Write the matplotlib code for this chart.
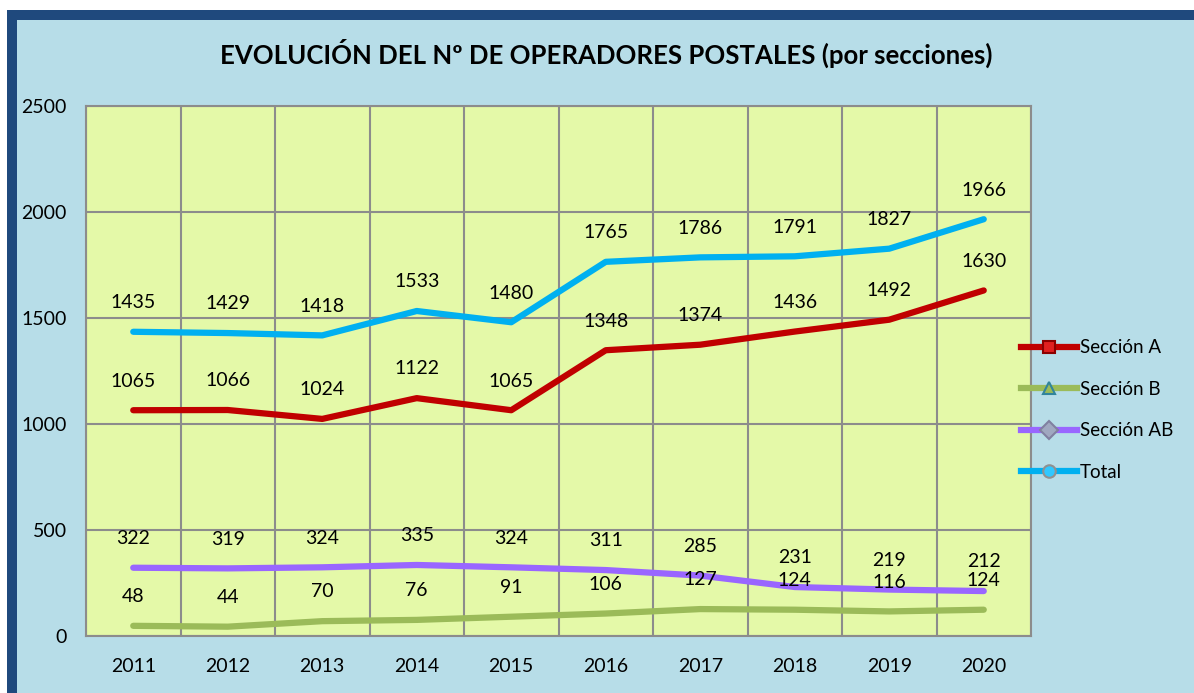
import numpy as np
import matplotlib.pyplot as plt
from matplotlib.patches import Rectangle
from matplotlib.lines import Line2D

plt.rcParams['font.family'] = ['Lato', 'DejaVu Sans']

# data
years = ['2011', '2012', '2013', '2014', '2015', '2016', '2017', '2018', '2019', '2020']
secc_a = [1065, 1066, 1024, 1122, 1065, 1348, 1374, 1436, 1492, 1630]
secc_b = [48, 44, 70, 76, 91, 106, 127, 124, 116, 124]
secc_ab = [322, 319, 324, 335, 324, 311, 285, 231, 219, 212]
total = [1435, 1429, 1418, 1533, 1480, 1765, 1786, 1791, 1827, 1966]

series = [
    ('Sección A', secc_a, '#C00000', 's', '#E02020', '#8B0000'),
    ('Sección B', secc_b, '#9BBB59', '^', '#9BBB59', '#31849B'),
    ('Sección AB', secc_ab, '#9966FF', 'D', '#A0A8C0', '#8080A0'),
    ('Total', total, '#00B0F0', 'o', '#30C8FF', '#909090'),
]

W, H = 1194, 693
fig = plt.figure(figsize=(W / 100, H / 100), dpi=100, facecolor='white')

# outer frame
frame = Rectangle((12 / W, -5 / H), 1200 / W, (H - 15 + 5) / H,
                  transform=fig.transFigure, facecolor='#B7DDE8',
                  edgecolor='#1F497D', linewidth=7.2, zorder=-10)
fig.add_artist(frame)

ax = fig.add_axes([86 / W, 1 - 636 / H, (1031 - 86) / W, (636 - 106) / H])
ax.set_facecolor('#E4F9A8')

x = np.arange(len(years))
handles = []
for name, vals, col, mk, mfc, mec in series:
    ax.plot(x, vals, color=col, lw=4.5, solid_capstyle='round', zorder=3)
    for xi, v in zip(x, vals):
        ax.annotate(str(v), (xi, v), xytext=(0, 21), textcoords='offset points',
                    ha='center', va='center', fontsize=14, color='black', zorder=4)
    handles.append(Line2D([], [], color=col, lw=4.5, marker=mk, markersize=9,
                          markerfacecolor=mfc, markeredgecolor=mec,
                          markeredgewidth=1.5, label=name))

ax.set_xlim(-0.5, len(years) - 0.5)
ax.set_ylim(0, 2500)
ax.set_yticks(np.arange(0, 2501, 500))
ax.set_xticks(x)
ax.set_xticklabels(years)
ax.set_xticks(np.arange(-0.5, len(years), 1), minor=True)
ax.grid(True, axis='y', which='major', color='#8C8C8C', lw=1.5)
ax.grid(True, axis='x', which='minor', color='#8C8C8C', lw=1.5)
ax.tick_params(axis='both', which='both', length=0, labelsize=14)
ax.tick_params(axis='y', pad=14)
ax.tick_params(axis='x', pad=16)
for s in ax.spines.values():
    s.set_color('#8C8C8C')
    s.set_linewidth(1.5)
ax.set_axisbelow(True)

fig.text(606 / W, 1 - 53 / H, 'EVOLUCIÓN DEL Nº DE OPERADORES POSTALES (por secciones)',
         ha='center', va='center', fontsize=18.5, fontweight='bold')

fig.legend(handles=handles, loc='center left', bbox_to_anchor=(1013 / W, 1 - 410 / H),
           frameon=False, fontsize=13.5, labelspacing=1.3, handlelength=3.0,
           handletextpad=0.15, borderaxespad=0)

fig.savefig('out.png', dpi=100, facecolor='white')
